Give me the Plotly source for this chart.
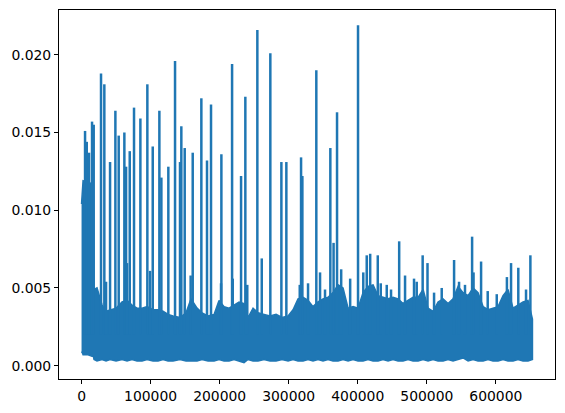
import plotly.graph_objects as go

# dense part of the signal: upper / lower envelope
band_x = [0, 1500, 2200, 9400, 15200, 17100, 18100, 22400, 29700, 35500,
          41300, 50000, 58700, 65900, 73100, 80400, 87600, 94900, 103500, 110800,
          118000, 125300, 132500, 142600, 151300, 158600, 167300, 174500, 183200, 191900,
          199100, 206400, 213600, 220800, 228100, 235300, 241100, 248400, 255600, 264300,
          273000, 281700, 290400, 299100, 306300, 313500, 320800, 328000, 335200, 342500,
          349700, 357000, 364200, 371500, 378700, 386000, 393200, 400400, 407700, 414900,
          422200, 429400, 436600, 443900, 451100, 458400, 465600, 472900, 480100, 487400,
          494600, 501800, 509100, 516300, 523600, 530800, 538000, 545300, 552500, 559800,
          567000, 574200, 581500, 588700, 595900, 603200, 610400, 617600, 624900, 632100,
          639400, 646600, 653000]
band_hi = [0.0104, 0.0118, 0.0119, 0.0118, 0.0117, 0.0115, 0.0049, 0.0050, 0.0039, 0.0035,
           0.0036, 0.0037, 0.0041, 0.0042, 0.0039, 0.0037, 0.0037, 0.0038, 0.0036, 0.0036,
           0.0035, 0.0033, 0.0032, 0.0031, 0.0034, 0.0043, 0.0037, 0.0034, 0.0032, 0.0033,
           0.0042, 0.0038, 0.0037, 0.0039, 0.0041, 0.0040, 0.0031, 0.0037, 0.0034, 0.0033,
           0.0032, 0.0033, 0.0031, 0.0032, 0.0036, 0.0043, 0.0044, 0.0042, 0.0038, 0.0041,
           0.0043, 0.0044, 0.0047, 0.0052, 0.0050, 0.0037, 0.0038, 0.0037, 0.0047, 0.0051,
           0.0052, 0.0045, 0.0044, 0.0043, 0.0044, 0.0043, 0.0040, 0.0042, 0.0044, 0.0044,
           0.0049, 0.0037, 0.0035, 0.0041, 0.0043, 0.0040, 0.0043, 0.0051, 0.0047, 0.0045,
           0.0050, 0.0047, 0.0038, 0.0036, 0.0037, 0.0038, 0.0045, 0.0049, 0.0037, 0.0039,
           0.0041, 0.0042, 0.0030]
band_lo = [0.0009, 0.0008, 0.0007, 0.0007, 0.0006, 0.0006, 0.0004, 0.0003, 0.0004, 0.0003,
           0.0004, 0.0003, 0.0004, 0.0003, 0.0004, 0.0003, 0.0003, 0.0004, 0.0003, 0.0003,
           0.0004, 0.0003, 0.0003, 0.0004, 0.0003, 0.0003, 0.0003, 0.0004, 0.0003, 0.0003,
           0.0004, 0.0003, 0.0003, 0.0004, 0.0003, 0.0002, 0.0004, 0.0003, 0.0003, 0.0004,
           0.0003, 0.0003, 0.0004, 0.0003, 0.0004, 0.0003, 0.0003, 0.0004, 0.0003, 0.0004,
           0.0003, 0.0004, 0.0003, 0.0003, 0.0004, 0.0003, 0.0004, 0.0003, 0.0003, 0.0004,
           0.0003, 0.0003, 0.0004, 0.0003, 0.0004, 0.0003, 0.0003, 0.0004, 0.0003, 0.0003,
           0.0004, 0.0003, 0.0004, 0.0003, 0.0003, 0.0004, 0.0003, 0.0004, 0.0005, 0.0003,
           0.0004, 0.0003, 0.0003, 0.0004, 0.0003, 0.0003, 0.0004, 0.0003, 0.0003, 0.0004,
           0.0003, 0.0003, 0.0004]

# isolated spikes (sample index, peak value)
spike_x = [5070, 7530, 10860, 15200, 17600, 28200, 33000, 35500, 41300, 49000,
           53800, 62000, 64500, 65900, 69800, 76000, 85200, 95300, 99200, 103100,
           112700, 115600, 125700, 135400, 142600, 144500, 149400, 158000, 161000, 173500,
           181700, 187500, 202000, 202500, 218000, 219000, 231000, 237200, 240000, 254600,
           261000, 273400, 289400, 296600, 316000, 317900, 319800, 328000, 340000, 345400,
           360300, 365000, 370000, 376000, 389000, 400400, 408000, 413000, 418000, 429000,
           442000, 460000, 468500, 481500, 494000, 501000, 521600, 539500, 555300, 565600,
           578600, 616000, 622000, 632500, 650000, 352600, 433300, 448200, 485400, 510500,
           546700, 567700, 588200, 601300, 643700]
spike_top = [0.0151, 0.0144, 0.0137, 0.0157, 0.0155, 0.0188, 0.0181, 0.0054, 0.0131, 0.0164,
             0.0148, 0.0150, 0.0128, 0.0066, 0.0138, 0.0166, 0.0159, 0.0181, 0.0061, 0.0141,
             0.0164, 0.0121, 0.0128, 0.0196, 0.0131, 0.0154, 0.0140, 0.0058, 0.0137, 0.0172,
             0.0132, 0.0168, 0.0053, 0.0136, 0.0194, 0.0056, 0.0122, 0.0173, 0.0052, 0.0216,
             0.0069, 0.0201, 0.0131, 0.0131, 0.0052, 0.0134, 0.0122, 0.0053, 0.0190, 0.0060,
             0.0140, 0.0079, 0.0163, 0.0062, 0.0056, 0.0219, 0.0060, 0.0071, 0.0072, 0.0071,
             0.0052, 0.0080, 0.0058, 0.0056, 0.0071, 0.0066, 0.0050, 0.0068, 0.0052, 0.0083,
             0.0067, 0.0057, 0.0066, 0.0063, 0.0071, 0.0049, 0.0053, 0.0049, 0.0054, 0.0047,
             0.0054, 0.0060, 0.0048, 0.0046, 0.0049]
spike_base = 0.002

x_ticks = [0, 100000, 200000, 300000, 400000, 500000, 600000]
y_ticks = [0.000, 0.005, 0.010, 0.015, 0.020]

blue = "#1f77b4"

sx, sy = [], []
for x, top in zip(spike_x, spike_top):
    sx += [x, x, None]
    sy += [spike_base, top, None]

fig = go.Figure()
# the band as one closed polygon: upper edge forward, lower edge back
fig.add_trace(go.Scatter(x=band_x + band_x[::-1], y=band_hi + band_lo[::-1],
                         mode="lines", fill="toself", fillcolor=blue,
                         line=dict(color=blue, width=1.5)))
fig.add_trace(go.Scatter(x=sx, y=sy, mode="lines",
                         line=dict(color=blue, width=2.5)))

n = max(band_x)
ymin, ymax = 0.000223, 0.0218
pad = 0.05 * (ymax - ymin)

axis_style = dict(showgrid=False, zeroline=False, showline=True, mirror=True,
                  linecolor="black", linewidth=1, ticks="outside", ticklen=4,
                  tickwidth=1, tickcolor="black",
                  tickfont=dict(family="DejaVu Sans", size=13.9, color="black"))

# the page body keeps its default 8px margin, so the figure is sized to fit inside it
fig.update_layout(
    width=549, height=397,
    margin=dict(l=51, r=2, t=2, b=26),
    plot_bgcolor="white", paper_bgcolor="white",
    showlegend=False,
    xaxis=dict(range=[-0.05 * n, 1.05 * n], tickvals=x_ticks,
               ticktext=[str(v) for v in x_ticks], automargin=False, **axis_style),
    yaxis=dict(range=[ymin - pad, ymax + pad], tickvals=y_ticks,
               ticktext=["%.3f" % v for v in y_ticks], automargin=False, **axis_style),
)

fig.write_html("out.html")
